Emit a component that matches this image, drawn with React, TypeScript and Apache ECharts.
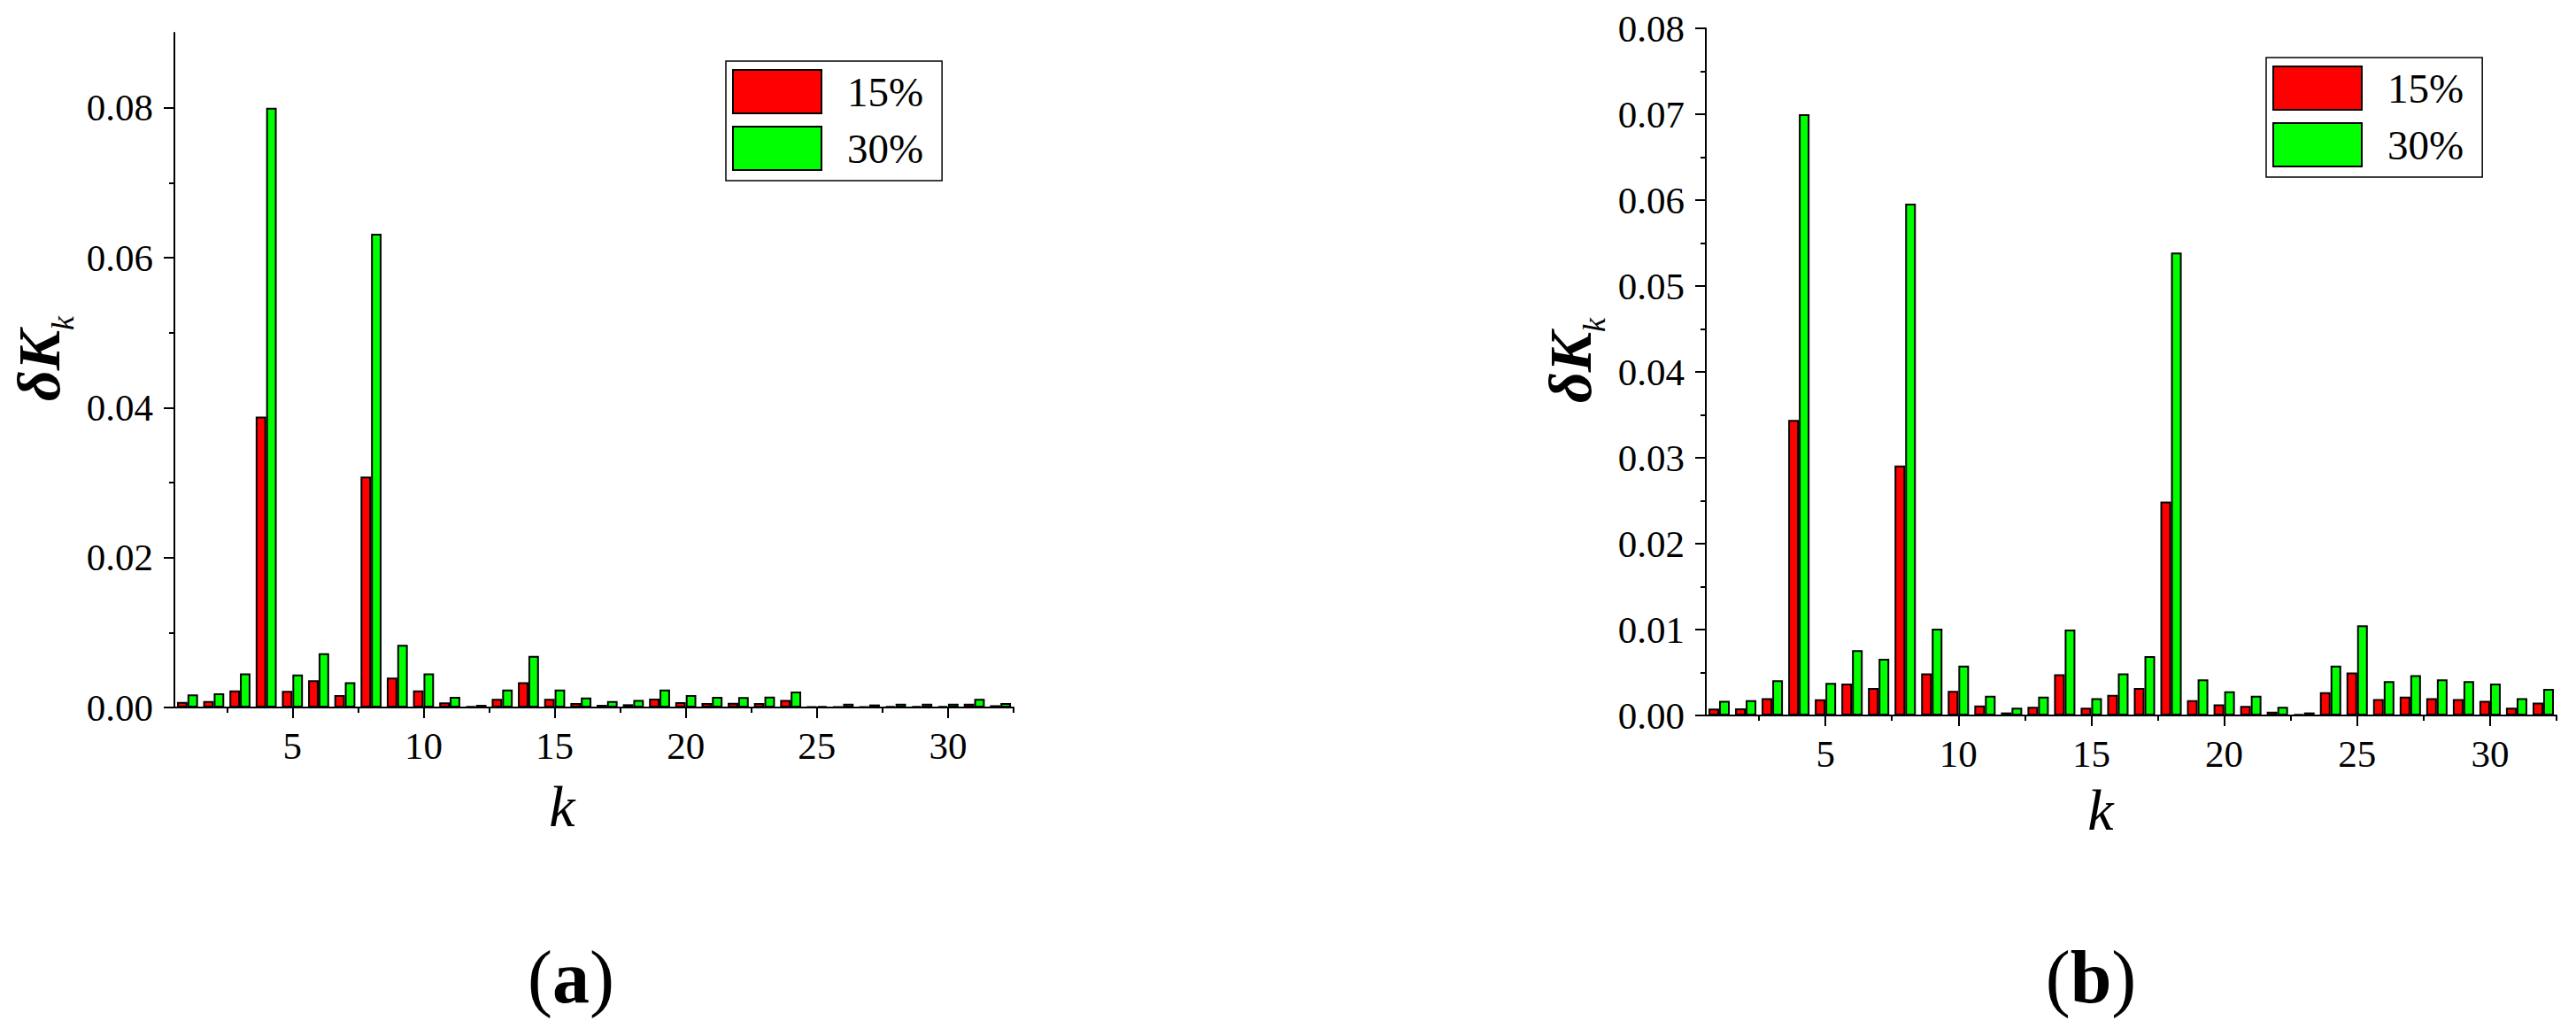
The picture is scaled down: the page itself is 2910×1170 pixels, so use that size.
import React, { useEffect, useRef } from "react";
import * as echarts from "echarts";

const FONT = "Liberation Serif, Times New Roman, serif";

const K = Array.from({ length: 32 }, (_, i) => String(i + 1));
const seriesNames = ["15%", "30%"];
const colors = ["#FF0000", "#00FF00"];

const redA = [0.00075, 0.00086, 0.00228, 0.0388, 0.0022, 0.00362, 0.00165, 0.0308, 0.004, 0.00228, 0.00067, 0.00016, 0.00114, 0.00338, 0.00114, 0.00059, 0.00035, 0.00043, 0.00118, 0.0007, 0.00059, 0.00063, 0.00059, 0.001, 0.0001, 0.0001, 0.0001, 0.0002, 0.0002, 0.0002, 0.0005, 0.0003];
const greenA = [0.00173, 0.00189, 0.00456, 0.08, 0.0044, 0.00723, 0.00338, 0.0632, 0.00837, 0.00456, 0.00141, 0.00035, 0.0024, 0.00688, 0.0024, 0.00134, 0.00086, 0.001, 0.0024, 0.00165, 0.00141, 0.00138, 0.00145, 0.00212, 0.0002, 0.0005, 0.0004, 0.0005, 0.0005, 0.0005, 0.00114, 0.00059];

const redB = [0.0008, 0.00083, 0.002, 0.0344, 0.00187, 0.0037, 0.0032, 0.0291, 0.0049, 0.00285, 0.00115, 0.00035, 0.001, 0.0048, 0.0009, 0.0024, 0.0032, 0.0249, 0.00177, 0.0013, 0.0011, 0.00045, 0.00014, 0.0027, 0.005, 0.0019, 0.0022, 0.002, 0.0019, 0.0017, 0.0009, 0.0015];
const greenB = [0.0017, 0.00177, 0.0041, 0.07, 0.00378, 0.0076, 0.0066, 0.0596, 0.0101, 0.0058, 0.0023, 0.0009, 0.0022, 0.01, 0.002, 0.0049, 0.0069, 0.0539, 0.0042, 0.0028, 0.0023, 0.001, 0.00035, 0.0058, 0.0105, 0.004, 0.0047, 0.0042, 0.004, 0.0037, 0.002, 0.0031];

const xMajor = [5, 10, 15, 20, 25, 30];
const xMinor = [2.5, 7.5, 12.5, 17.5, 22.5, 27.5, 32.5];
const yMajorA = [0, 0.02, 0.04, 0.06, 0.08];
const yMinorA = [0.01, 0.03, 0.05, 0.07];
const yMajorB = [0, 0.01, 0.02, 0.03, 0.04, 0.05, 0.06, 0.07, 0.08];
const yMinorB = [0.005, 0.015, 0.025, 0.035, 0.045, 0.055, 0.065, 0.075];

const line = { color: "#000", width: 2 };

function xAxes(g: number) {
  return [
    { type: "category", gridIndex: g, data: K, show: false, boundaryGap: true },
    {
      type: "value", gridIndex: g, min: 0.5, max: 32.5, position: "bottom",
      axisLine: { show: true, onZero: false, lineStyle: line },
      axisTick: { show: true, customValues: xMajor, length: 12, inside: false, lineStyle: line },
      axisLabel: { show: true, customValues: xMajor, fontSize: 43, fontFamily: FONT, color: "#000", margin: 22 },
      splitLine: { show: false },
    },
    {
      type: "value", gridIndex: g, min: 0.5, max: 32.5, position: "bottom",
      axisLine: { show: false, onZero: false },
      axisTick: { show: true, customValues: xMinor, length: 6, lineStyle: line },
      axisLabel: { show: false },
      splitLine: { show: false },
    },
  ];
}

function yAxes(g: number, max: number, major: number[], minor: number[]) {
  return [
    {
      type: "value", gridIndex: g, min: 0, max, position: "left",
      axisLine: { show: true, onZero: false, lineStyle: line },
      axisTick: { show: true, customValues: major, length: 12, lineStyle: line },
      axisLabel: {
        show: true, customValues: major, fontSize: 43, fontFamily: FONT, color: "#000", margin: 24,
        formatter: (v: number) => v.toFixed(2),
      },
      splitLine: { show: false },
    },
    {
      type: "value", gridIndex: g, min: 0, max, position: "left",
      axisLine: { show: false, onZero: false },
      axisTick: { show: true, customValues: minor, length: 6, lineStyle: line },
      axisLabel: { show: false },
      splitLine: { show: false },
    },
  ];
}

function bars(xi: number, yi: number, data: number[][]) {
  return data.map((d, i) => ({
    type: "bar",
    name: seriesNames[i],
    xAxisIndex: xi,
    yAxisIndex: yi,
    data: d,
    barWidth: "40%",
    barGap: "0%",
    itemStyle: { color: colors[i], borderColor: "#000", borderWidth: 2 },
  }));
}

function legend(left: number, top: number) {
  return {
    orient: "vertical",
    left, top,
    icon: "rect",
    itemWidth: 100,
    itemHeight: 49,
    itemGap: 13,
    padding: [9, 21, 11, 7],
    borderColor: "#000",
    borderWidth: 1.5,
    backgroundColor: "#fff",
    selectedMode: false,
    data: seriesNames,
    itemStyle: { borderColor: "#000", borderWidth: 2 },
    textStyle: { fontSize: 47, fontFamily: FONT, color: "#000", padding: [0, 0, 0, 24] },
  };
}

function rtxt(x: number, y: number, text: string, rich: any, rotation = 0) {
  return {
    type: "text", x, y, rotation, silent: true,
    style: {
      text, fill: "#000", fontFamily: FONT, fontSize: 40,
      textAlign: "center", textVerticalAlign: "middle", rich,
    },
  };
}

const labRich = {
  d: { fontFamily: FONT, fontSize: 68, fontWeight: "bold", fontStyle: "italic", fill: "#000" },
  s: { fontFamily: FONT, fontSize: 36, fontWeight: "normal", fontStyle: "italic", fill: "#000" },
  k: { fontFamily: FONT, fontSize: 66, fontWeight: "normal", fontStyle: "italic", fill: "#000" },
};
const capRich = {
  n: { fontFamily: FONT, fontSize: 84, fontWeight: "normal", fill: "#000" },
  b: { fontFamily: FONT, fontSize: 84, fontWeight: "bold", fill: "#000" },
};

export default function App() {
  const ref = useRef<HTMLDivElement>(null);
  useEffect(() => {
    if (!ref.current) return;
    const chart = echarts.init(ref.current, undefined, { renderer: "svg" });
    const R = Math.PI / 2;
    const option: any = {
      animation: false,
      backgroundColor: "#fff",
      textStyle: { fontFamily: FONT },
      grid: [
        { left: 197, top: 37, width: 948, height: 762, outerBoundsMode: "none", containLabel: false },
        { left: 1927, top: 32, width: 961, height: 776, outerBoundsMode: "none", containLabel: false },
      ],
      xAxis: [...xAxes(0), ...xAxes(1)],
      yAxis: [...yAxes(0, 0.09, yMajorA, yMinorA), ...yAxes(1, 0.08, yMajorB, yMinorB)],
      legend: [legend(820, 69), legend(2560, 65)],
      series: [...bars(0, 0, [redA, greenA]), ...bars(3, 2, [redB, greenB])],
      graphic: [
        rtxt(44, 413, "{d|δK}", labRich, R),
        rtxt(71, 365, "{s|k}", labRich, R),
        rtxt(1774, 415, "{d|δK}", labRich, R),
        rtxt(1801, 367, "{s|k}", labRich, R),
        rtxt(635, 910, "{k|k}", labRich),
        rtxt(2373, 914, "{k|k}", labRich),
        rtxt(645, 1103, "{n|(}{b|a}{n|)}", capRich),
        rtxt(2362, 1103, "{n|(}{b|b}{n|)}", capRich),
      ],
    };
    chart.setOption(option);
    return () => chart.dispose();
  }, []);
  return (
    <div
      ref={ref}
      style={{ position: "fixed", left: 0, top: 0, width: 2910, height: 1170, background: "#fff" }}
    />
  );
}
